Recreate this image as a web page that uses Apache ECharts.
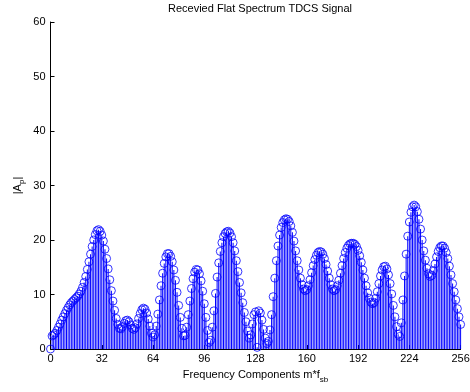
<!DOCTYPE html>
<html>
<head>
<meta charset="utf-8">
<script src="https://cdn.jsdelivr.net/npm/echarts@6/dist/echarts.min.js"></script>
<style>
  html, body { margin: 0; padding: 0; background: #fff; }
  #MyChart { width: 470px; height: 392px; }
</style>
</head>
<body>
<div id="MyChart"></div>
<script>
// |A_p|, m = 0..256
var amp0 = [0.0, 2.4, 2.6, 2.9, 3.4, 4.0, 4.6, 5.3, 5.9, 6.5, 7.1, 7.6, 8.1, 8.5, 8.8, 9.1,
  9.4, 9.7, 10.1, 10.6, 11.3, 12.2, 13.3, 14.6, 16.0, 17.4, 18.8, 20.0, 21.0, 21.7, 21.9, 21.6,
  20.9, 19.8, 18.3, 16.6, 14.7, 12.7, 10.7, 8.8, 7.1, 5.6, 4.5, 3.8, 3.7, 4.1, 4.7, 5.2,
  5.3, 5.0, 4.4, 3.8, 3.6, 3.9, 4.6, 5.6, 6.5, 7.2, 7.5, 7.3, 6.6, 5.5, 4.2, 2.9];
var amp1 = [2.2, 2.6, 4.2, 6.4, 9.0, 11.6, 13.9, 15.7, 16.9, 17.5, 17.5, 17.0, 16.0, 14.5, 12.6, 10.4,
  8.0, 5.8, 3.8, 2.4, 2.5, 4.0, 6.3, 8.8, 11.1, 12.9, 14.1, 14.6, 14.5, 13.8, 12.5, 10.6,
  8.3, 5.8, 3.4, 1.2, 1.6, 4.0, 7.0, 10.2, 13.2, 15.8, 17.9, 19.5, 20.6, 21.2, 21.5, 21.6,
  21.3, 20.6, 19.5, 18.0, 16.2, 14.2, 12.2, 10.3, 8.5, 6.7, 5.0, 3.3, 2.0, 2.6, 4.6, 6.3];
var amp2 = [6.8, 0.3, 7.0, 6.6, 5.3, 3.6, 2.0, 1.0, 1.4, 3.5, 6.3, 9.6, 13.0, 16.2, 18.9, 20.9,
  22.3, 23.2, 23.7, 23.9, 23.8, 23.4, 22.6, 21.4, 19.8, 18.0, 16.2, 14.5, 13.0, 11.8, 11.0, 10.7,
  10.9, 11.6, 12.7, 14.0, 15.3, 16.4, 17.2, 17.7, 17.9, 17.8, 17.4, 16.6, 15.5, 14.3, 13.0, 11.8,
  11.0, 10.7, 10.9, 11.6, 12.6, 13.9, 15.3, 16.6, 17.7, 18.5, 19.0, 19.3, 19.4, 19.4, 19.2, 18.8];
var amp3 = [18.1, 17.1, 15.9, 14.5, 13.0, 11.6, 10.3, 9.3, 8.6, 8.3, 8.5, 9.3, 10.5, 12.0, 13.4, 14.5,
  15.1, 15.2, 14.7, 13.6, 12.0, 10.1, 8.0, 5.9, 4.1, 2.7, 2.3, 4.8, 9.0, 13.4, 17.4, 20.7,
  23.3, 25.1, 26.1, 26.4, 26.1, 25.2, 23.8, 22.0, 20.0, 18.0, 16.3, 14.8, 13.8, 13.3, 13.5, 14.4,
  15.6, 16.9, 17.9, 18.6, 18.9, 18.9, 18.5, 17.7, 16.6, 15.2, 13.6, 12.0, 10.5, 9.0, 7.4, 5.9, 4.5];

var xTicks = [0, 32, 64, 96, 128, 160, 192, 224, 256];
var yTicks = [0, 10, 20, 30, 40, 50, 60];

var amp = amp0.concat(amp1, amp2, amp3);
var points = [];
for (var i = 0; i < amp.length; i++) {
  points.push([i, amp[i]]);
}

var myChart = echarts.init(document.getElementById('MyChart'));
var font = 'Liberation Sans, Arial, sans-serif';
var option = {
  animation: false,
  title: {
    text: 'Recevied Flat Spectrum TDCS Signal',
    left: 255,
    top: -2,
    textAlign: 'center',
    textStyle: { fontFamily: font, fontSize: 11, fontWeight: 'normal', color: '#000' }
  },
  grid: {
    left: 50.5,
    right: 9.4,
    top: 22,
    bottom: 43,
    containLabel: false,
    outerBoundsMode: 'none'
  },
  xAxis: {
    type: 'value',
    min: 0,
    max: 256,
    interval: 32,
    name: 'Frequency Components m*f{sub|sb}',
    nameLocation: 'middle',
    nameGap: 17,
    nameTextStyle: {
      fontFamily: font, fontSize: 11, color: '#000',
      rich: { sub: { fontFamily: font, fontSize: 8, color: '#000', padding: [10, 0, 0, 0] } }
    },
    axisLine: { lineStyle: { color: '#000', width: 1 } },
    axisTick: { inside: true, length: 4, lineStyle: { color: '#000' } },
    axisLabel: {
      fontFamily: font, fontSize: 11, color: '#000', margin: 4,
      formatter: function (v) { return xTicks.indexOf(v) >= 0 ? String(v) : ''; }
    },
    splitLine: { show: false }
  },
  yAxis: {
    type: 'value',
    min: 0,
    max: 60,
    interval: 10,
    name: '|A{sub|p}|',
    nameLocation: 'middle',
    nameGap: 25,
    nameMoveOverlap: false,
    nameRotate: 90,
    nameTextStyle: {
      fontFamily: font, fontSize: 11, color: '#000',
      rich: { sub: { fontFamily: font, fontSize: 8, color: '#000', padding: [8, 0, 0, 0] } }
    },
    axisLine: { show: true, lineStyle: { color: '#000', width: 1 } },
    axisTick: { show: true, inside: true, length: 4, lineStyle: { color: '#000' } },
    axisLabel: {
      fontFamily: font, fontSize: 11, color: '#000', margin: 5,
      formatter: function (v) { return yTicks.indexOf(v) >= 0 ? String(v) : ''; }
    },
    splitLine: { show: false }
  },
  series: [
    {
      // stems
      type: 'bar',
      data: points,
      barWidth: 1,
      itemStyle: { color: '#0000ff' },
      silent: true
    },
    {
      // markers, hollow so the stems show through
      type: 'scatter',
      data: points,
      symbol: 'circle',
      symbolSize: 8,
      itemStyle: { color: 'rgba(0,0,0,0)', borderColor: '#0000ff', borderWidth: 1 },
      silent: true
    }
  ]
};
myChart.setOption(option);
</script>
</body>
</html>
